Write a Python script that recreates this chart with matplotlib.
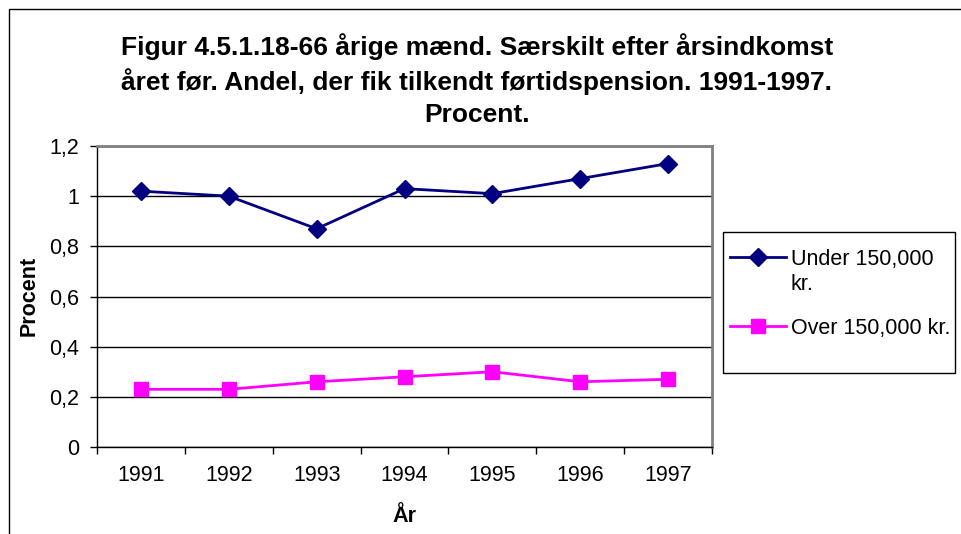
import matplotlib
matplotlib.use("Agg")
import matplotlib.pyplot as plt
from matplotlib.lines import Line2D
from matplotlib.patches import Rectangle
import numpy as np

plt.rcParams['font.family'] = ['Liberation Sans', 'DejaVu Sans']

years = ["1991", "1992", "1993", "1994", "1995", "1996", "1997"]
under = [1.02, 1.00, 0.87, 1.03, 1.01, 1.07, 1.13]
over = [0.23, 0.23, 0.26, 0.28, 0.30, 0.26, 0.27]
yticks = [0, 0.2, 0.4, 0.6, 0.8, 1.0, 1.2]
ytick_labels = ["0", "0,2", "0,4", "0,6", "0,8", "1", "1,2"]
series_names = ["Under 150,000\nkr.", "Over 150,000 kr."]
title = "Figur 4.5.1.18-66 årige mænd. Særskilt efter årsindkomst\nåret før. Andel, der fik tilkendt førtidspension. 1991-1997.\nProcent."

W, H = 962, 534
fig = plt.figure(figsize=(W/100, H/100), dpi=100)

def fx(px):
    return px / W

def fy(py):
    return 1 - py / H

# outer frame (cut off at right and bottom)
fig.patches.append(Rectangle((fx(9), -0.1), 1.2, fy(9) + 0.1, transform=fig.transFigure,
                             fill=False, edgecolor='black', linewidth=1.0))

fs = 15.5
colors = ['#000080', '#FF00FF']
markers = ['D', 's']
msizes = [9, 10]

ax = fig.add_axes([fx(97), fy(447), fx(712) - fx(97), fy(146) - fy(447)])
x = np.arange(len(years))
for vals, c, m, ms, name in zip([under, over], colors, markers, msizes, series_names):
    ax.plot(x, vals, color=c, marker=m, markersize=ms, linewidth=2, label=name)

ax.set_xlim(-0.5, len(years)-0.5)
ax.set_ylim(0, 1.2)
ax.set_yticks(yticks)
ax.set_yticklabels(ytick_labels, fontsize=fs)
ax.set_xticks(x)
ax.set_xticklabels(years, fontsize=fs)
ax.tick_params(axis='x', which='major', length=0, pad=13)
ax.set_xticks(np.arange(-0.5, len(years), 1.0), minor=True)
ax.tick_params(axis='x', which='minor', length=5, direction='out', width=1)
ax.tick_params(axis='y', length=5, direction='out', width=1, pad=8)
ax.yaxis.grid(True, color='black', linewidth=1)
ax.set_axisbelow(True)
for s in ['top', 'right']:
    ax.spines[s].set_color('#808080')
    ax.spines[s].set_linewidth(2)
for s in ['left', 'bottom']:
    ax.spines[s].set_color('black')
    ax.spines[s].set_linewidth(1)

fig.text(fx(29), fy(296), "Procent", rotation=90, fontsize=fs, fontweight='bold', ha='center', va='center')
fig.text(fx(404), fy(516), "År", fontsize=fs, fontweight='bold', ha='center', va='center')
fig.text(fx(477), fy(80), title, fontsize=19, fontweight='bold', ha='center', va='center', linespacing=1.38)

# legend drawn in figure coordinates
fig.patches.append(Rectangle((fx(723), fy(373)), fx(955) - fx(723), fy(232) - fy(373),
                             transform=fig.transFigure, fill=False, edgecolor='black', linewidth=1))
rows_y = [257, 326]
for name, c, m, ms, ry in zip(series_names, colors, markers, msizes, rows_y):
    fig.add_artist(Line2D([fx(730), fx(786)], [fy(ry), fy(ry)], color=c, linewidth=2,
                          transform=fig.transFigure))
    fig.add_artist(Line2D([fx(758)], [fy(ry)], color=c, marker=m, markersize=ms, linestyle='none',
                          transform=fig.transFigure))
    fig.text(fx(791), fy(ry - 8), name, fontsize=fs, ha='left', va='top', linespacing=1.25)

fig.savefig("out.png", dpi=100)
